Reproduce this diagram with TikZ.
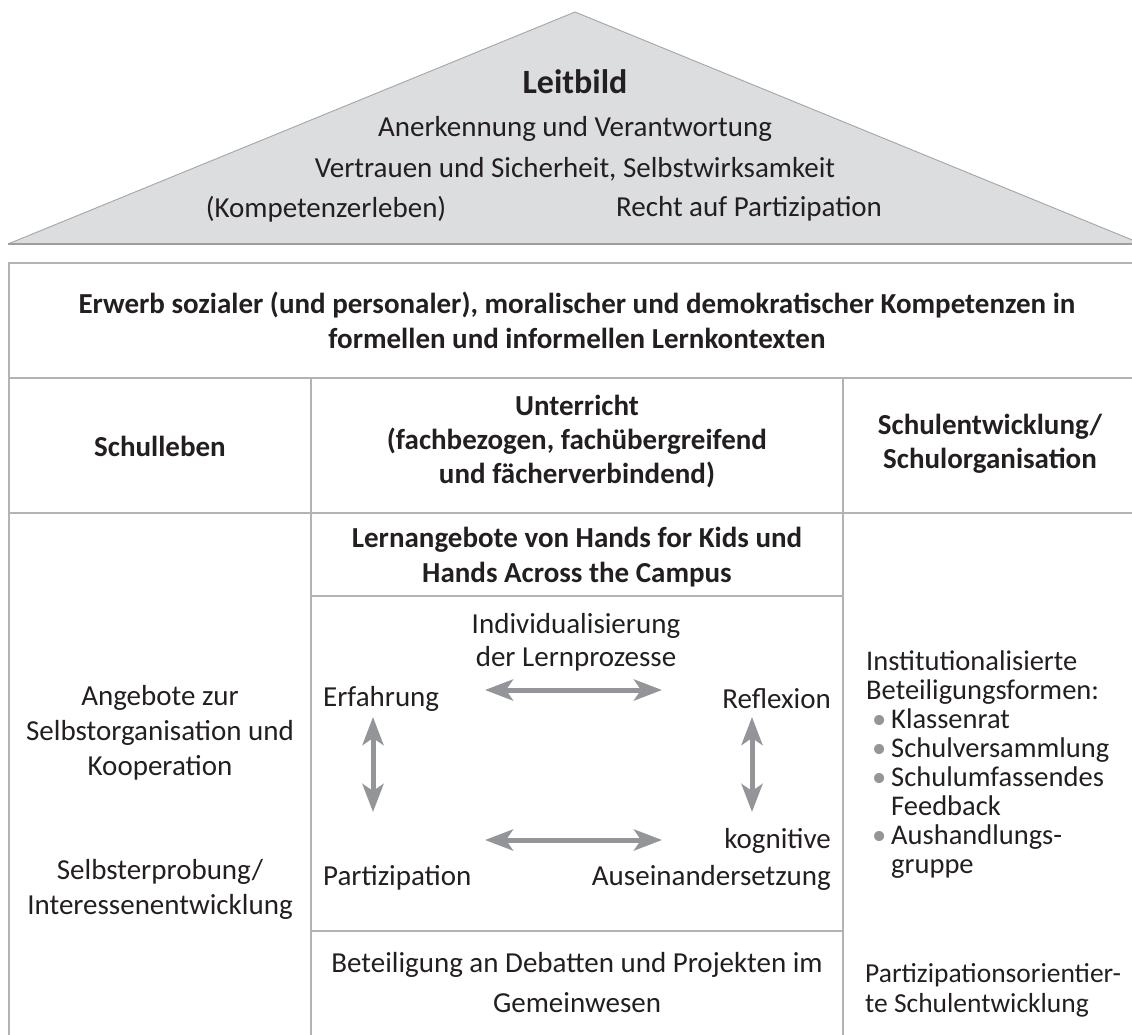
\documentclass[tikz,border=0pt]{standalone}
\usepackage{fontspec}
\setmainfont{Carlito}
\usetikzlibrary{arrows.meta}
\definecolor{txt}{HTML}{231F20}
\definecolor{roof}{HTML}{DCDDDF}
\definecolor{roofedge}{HTML}{A3A5A8}
\definecolor{roofbase}{HTML}{9C9EA1}
\definecolor{grid}{HTML}{B1B3B6}
\definecolor{arr}{HTML}{939598}
\begin{document}
\begin{tikzpicture}[x=1pt,y=-1pt,
  lbl/.style={inner sep=0pt, text=txt, font=\fontsize{29}{35}\selectfont, align=center},
  blbl/.style={lbl, font=\bfseries\fontsize{29}{35}\selectfont},
  gridline/.style={draw=grid, line width=1.6pt},
  dbl/.style={draw=arr, line width=5pt,
    {Stealth[length=28pt,width=21pt,inset=7pt]}-{Stealth[length=28pt,width=21pt,inset=7pt]}}
]
\useasboundingbox (0,0) rectangle (1132,1035);
\clip (0,0) rectangle (1132,1035);

% roof
\fill[roof] (8,244) -- (575,12) -- (1142,244) -- cycle;
\draw[roofedge, line width=0.9pt] (8,244) -- (575,12) -- (1142,244);
\draw[roofbase, line width=2pt] (8,244) -- (1132,244);

\node[blbl, font=\bfseries\fontsize{34}{38}\selectfont] (leit) at (575,82) {Leitbild};
\node[lbl] (anerk) at (575,129) {Anerkennung und Verantwortung};
\node[lbl] (vertr) at (575,169) {Vertrauen und Sicherheit, Selbstwirksamkeit};
\node[lbl] (komp) at (326,209) {(Kompetenzerleben)};
\node[lbl] (recht) at (749,209) {Recht auf Partizipation};

% table lines
\draw[gridline] (1132,263) -- (9,263) -- (9,1040);
\draw[gridline] (9,378) -- (1132,378);
\draw[gridline] (9,513) -- (1132,513);
\draw[gridline] (311,378) -- (311,1040);
\draw[gridline] (843,378) -- (843,1040);
\draw[gridline] (311,596) -- (843,596);
\draw[gridline] (311,931) -- (843,931);

% header
\node[blbl] (erwerb) at (577,320) {Erwerb sozialer (und personaler), moralischer und demokratischer Kompetenzen in\\formellen und informellen Lernkontexten};

% row 2
\node[blbl] (schulleben) at (160,446) {Schulleben};
\node[blbl, font=\bfseries\fontsize{29}{34}\selectfont] (unterricht) at (577,442) {Unterricht\\(fachbezogen, fachübergreifend\\und fächerverbindend)};
\node[blbl, font=\bfseries\fontsize{29}{34}\selectfont] (schulentw) at (990,444) {Schulentwicklung/\\Schulorganisation};

% middle column
\node[blbl] (lernang) at (577,557) {Lernangebote von Hands for Kids und\\Hands Across the Campus};
\node[lbl, font=\fontsize{29}{33}\selectfont] (indiv) at (576,642) {Individualisierung\\der Lernprozesse};
\node[lbl, anchor=west] (erf) at (323,699) {Erfahrung};
\node[lbl, anchor=east] (refl) at (831,699) {Reflexion};
\node[lbl, anchor=east, align=right, font=\fontsize{29}{37}\selectfont] (kogn) at (831,859) {kognitive\\Auseinandersetzung};
\node[lbl, anchor=west] (partiz) at (323,878) {Partizipation};
\node[lbl, font=\fontsize{29}{40}\selectfont] (beteil) at (577,983) {Beteiligung an Debatten und Projekten im\\Gemeinwesen};

\coordinate (h1a) at (485,690);
\coordinate (h1b) at (662,690);
\coordinate (h2a) at (485,840);
\coordinate (h2b) at (662,840);
\coordinate (v1a) at (373,717);
\coordinate (v1b) at (373,812);
\coordinate (v2a) at (752,717);
\coordinate (v2b) at (752,812);
\draw[dbl] (h1a) -- (h1b);
\draw[dbl] (h2a) -- (h2b);
\draw[dbl] (v1a) -- (v1b);
\draw[dbl] (v2a) -- (v2b);

% left column
\node[lbl] (angebote) at (160,733) {Angebote zur\\Selbstorganisation und\\Kooperation};
\node[lbl] (selbst) at (160,889) {Selbsterprobung/\\Interessenentwicklung};

% right column
\node[lbl, align=left, anchor=west, font=\fontsize{28.5}{29}\selectfont] (inst) at (866,765) {Institutionalisierte\\Beteiligungsformen:\\
\hspace*{6pt}\makebox[19pt][l]{\textcolor{arr}{•}}Klassenrat\\
\hspace*{6pt}\makebox[19pt][l]{\textcolor{arr}{•}}Schulversammlung\\
\hspace*{6pt}\makebox[19pt][l]{\textcolor{arr}{•}}Schulumfassendes\\
\hspace*{25pt}Feedback\\
\hspace*{6pt}\makebox[19pt][l]{\textcolor{arr}{•}}Aushandlungs-\\
\hspace*{25pt}gruppe};
\node[lbl, align=left, anchor=west, font=\fontsize{27.5}{30}\selectfont] (partschul) at (865,990) {Partizipationsorientier-\\te Schulentwicklung};
\end{tikzpicture}
\end{document}
